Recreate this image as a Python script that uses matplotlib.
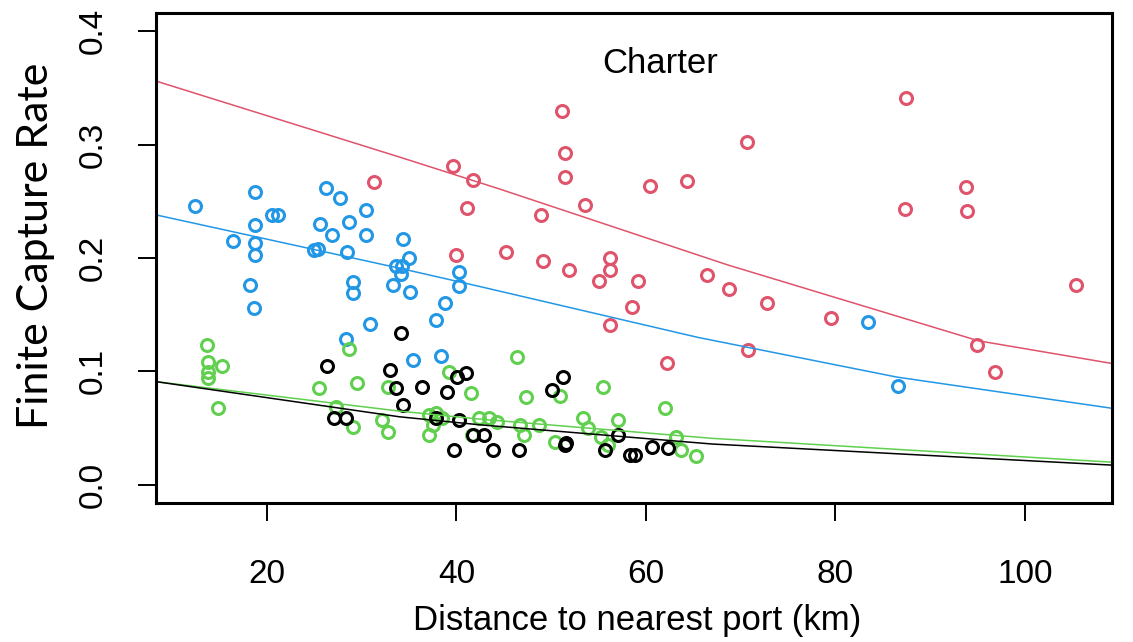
import matplotlib
matplotlib.use("Agg")
import matplotlib.pyplot as plt

# values
red_x = [31.3, 39.6, 41.8, 41.1, 40.0, 51.2, 51.5, 51.5, 48.9, 53.6, 60.4, 64.3,
         45.2, 49.1, 51.9, 56.2, 56.2, 55.1, 59.2, 58.5, 56.2, 66.5, 68.8, 87.5,
         70.7, 93.8, 87.3, 93.9, 105.4, 72.8, 79.5, 70.8, 95.0, 96.9, 62.2]
red_y = [0.267, 0.281, 0.269, 0.244, 0.2025, 0.330, 0.293, 0.2715, 0.238, 0.2465, 0.2636, 0.2676,
         0.2055, 0.197, 0.189, 0.1996, 0.189, 0.1796, 0.1796, 0.157, 0.1408, 0.1849, 0.1725, 0.341,
         0.3026, 0.263, 0.243, 0.241, 0.176, 0.1605, 0.147, 0.119, 0.1236, 0.0995, 0.107]

blue_x = [12.4, 18.7, 20.5, 21.2, 18.7, 16.4, 18.7, 18.7, 18.2, 18.6, 26.2, 27.7, 25.6,
          26.9, 25.4, 25.0, 28.7, 30.5, 30.5, 28.5, 29.1, 29.1, 34.4, 35.0, 33.6, 34.3,
          34.2, 33.3, 35.1, 40.3, 40.3, 38.8, 37.9, 30.9, 28.4, 35.4, 38.4, 83.5, 86.6]
blue_y = [0.246, 0.258, 0.238, 0.238, 0.229, 0.215, 0.213, 0.203, 0.176, 0.156, 0.262, 0.253, 0.230,
          0.220, 0.208, 0.207, 0.232, 0.242, 0.220, 0.205, 0.179, 0.169, 0.217, 0.200, 0.193, 0.193,
          0.186, 0.176, 0.170, 0.188, 0.175, 0.160, 0.145, 0.142, 0.129, 0.110, 0.114, 0.144, 0.0875]

green_x = [13.7, 13.8, 15.3, 13.8, 13.8, 14.8, 25.5, 28.7, 29.5, 32.8, 32.2, 32.8, 29.1, 27.3,
           37.1, 37.5, 39.2, 41.5, 37.1, 37.8, 38.5, 42.4, 43.4, 44.3, 41.7, 46.4, 47.4, 50.9,
           55.5, 62.0, 46.7, 47.1, 48.7, 50.4, 53.4, 53.9, 55.3, 56.0, 57.1, 63.2, 63.7, 65.3]
green_y = [0.123, 0.1086, 0.105, 0.0998, 0.094, 0.068, 0.085, 0.120, 0.0895, 0.0866, 0.057, 0.047, 0.0514, 0.069,
           0.044, 0.0528, 0.0998, 0.0807, 0.0616, 0.063, 0.0587, 0.0587, 0.0587, 0.0558, 0.044, 0.1124, 0.0778, 0.0787,
           0.0866, 0.068, 0.0528, 0.044, 0.0528, 0.038, 0.0593, 0.050, 0.0426, 0.0352, 0.057, 0.0426, 0.0308, 0.025]

black_x = [26.3, 34.2, 33.0, 33.6, 36.4, 34.4, 39.0, 40.1, 41.0, 27.1, 28.4, 37.8, 40.3, 39.7,
           41.8, 42.9, 43.9, 46.6, 50.1, 51.3, 51.6, 51.5, 55.7, 57.1, 58.3, 58.9, 60.6, 62.3]
black_y = [0.105, 0.134, 0.101, 0.085, 0.0866, 0.070, 0.0816, 0.0954, 0.099, 0.0587, 0.0587, 0.0593, 0.057, 0.0308,
           0.044, 0.044, 0.0308, 0.0308, 0.0836, 0.0954, 0.0367, 0.0352, 0.0308, 0.044, 0.0264, 0.0264, 0.033, 0.0323]

# fitted curves, read at a few x positions
red_line_x = [8.3, 34.0, 44.5, 68.6, 95.1, 109.2]
red_line_y = [0.356, 0.289, 0.261, 0.194, 0.127, 0.107]
blue_line_x = [8.3, 34.0, 42.4, 65.5, 86.5, 109.2]
blue_line_y = [0.238, 0.191, 0.175, 0.130, 0.095, 0.0675]
green_line_x = [8.3, 34.0, 42.4, 67.0, 109.2]
green_line_y = [0.091, 0.065, 0.058, 0.041, 0.020]
black_line_x = [8.3, 34.0, 42.4, 67.0, 109.2]
black_line_y = [0.091, 0.060, 0.053, 0.036, 0.0174]

x_ticks = [20, 40, 60, 80, 100]
y_ticks = [0.0, 0.1, 0.2, 0.3, 0.4]

RED, GREEN, BLUE = '#DF536B', '#61D04F', '#2297E6'

plt.rcParams['font.family'] = ['Liberation Sans', 'DejaVu Sans']

fig = plt.figure(figsize=(11.33, 6.42), dpi=100)
ax = fig.add_axes([156 / 1133, 1 - 503 / 642, (1112 - 156) / 1133, (503 - 13) / 642])

mk = dict(marker='o', linestyle='none', markerfacecolor='none', markersize=8.6, markeredgewidth=2.2)
ax.plot(red_x, red_y, color=RED, **mk)
ax.plot(blue_x, blue_y, color=BLUE, **mk)
ax.plot(green_x, green_y, color=GREEN, **mk)
ax.plot(black_x, black_y, color='black', **mk)

ax.plot(red_line_x, red_line_y, color=RED, lw=1.1)
ax.plot(blue_line_x, blue_line_y, color=BLUE, lw=1.1)
ax.plot(green_line_x, green_line_y, color=GREEN, lw=1.1)
ax.plot(black_line_x, black_line_y, color='black', lw=1.1)

ax.set_xlim(8.3, 109.2)
ax.set_ylim(-0.016, 0.416)
ax.set_xticks(x_ticks)
ax.set_yticks(y_ticks)
ax.set_yticklabels([f'{v:.1f}' for v in y_ticks], rotation=90, va='center')
ax.tick_params(length=13, width=1.4, labelsize=24)
ax.tick_params(axis='x', pad=27)
ax.tick_params(axis='y', pad=21)
for s in ax.spines.values():
    s.set_linewidth(2.2)

fig.text(660 / 1133, 1 - 73 / 642, 'Charter', ha='center', va='baseline', fontsize=25)
fig.text(637 / 1133, 1 - 630 / 642, 'Distance to nearest port (km)', ha='center', va='baseline', fontsize=25)
fig.text(36 / 1133, 1 - 246 / 642, 'Finite Capture Rate', rotation=90, ha='center', va='center',
         fontsize=31, family=['Lato', 'DejaVu Sans'])

fig.savefig('out.png', dpi=100)
